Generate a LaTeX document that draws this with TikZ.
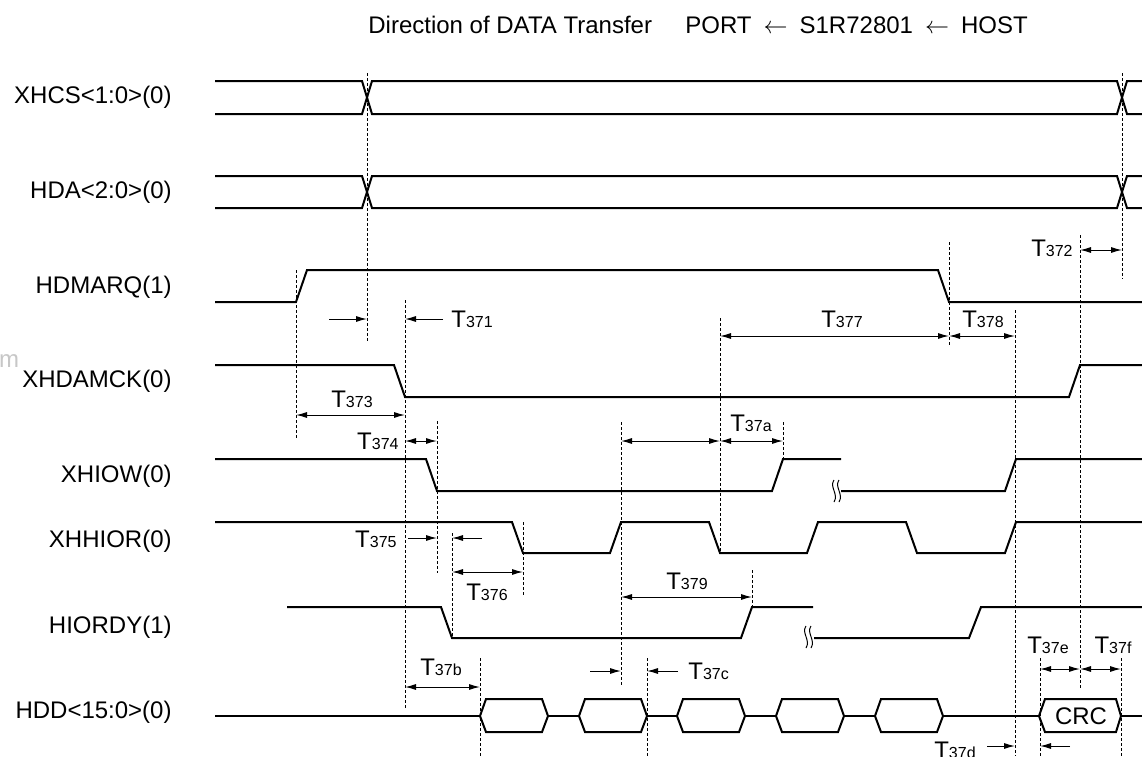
\documentclass[tikz,border=0pt]{standalone}
\usepackage{fontspec}
\setmainfont{Liberation Sans}
\usetikzlibrary{arrows.meta}
\newcommand{\tm}[1]{T\raisebox{-0.4pt}{\fontsize{8}{8}\selectfont #1}}

\begin{document}
\begin{tikzpicture}[x=0.5pt,y=-0.5pt,
  every node/.style={font=\fontsize{12}{14}\selectfont,inner sep=0pt},
  sig/.style={line width=1pt},
  guide/.style={line width=0.45pt,dash pattern=on 1.5pt off 1pt},
  dimarr/.style={line width=0.5pt,{Latex[length=5.5pt,width=3pt]}-{Latex[length=5.5pt,width=3pt]}},
  onearr/.style={line width=0.5pt,-{Latex[length=5.5pt,width=3pt]}},
  lbl/.style={anchor=base east}]
\useasboundingbox (0,0) rectangle (1142,756);

\node[anchor=base west] (title) at (368,33) {Direction of DATA Transfer};
\node[anchor=base west] (dir) at (685,33) {PORT\enspace$\leftarrow$\enspace S1R72801\enspace$\leftarrow$\enspace HOST};
\node[text=black!22] (stray) at (9,361) {m};

\node[lbl] (xhcs) at (172,103) {XHCS<1:0>(0)};
\node[lbl] (hda) at (172,198) {HDA<2:0>(0)};
\node[lbl] (hdmarq) at (172,293) {HDMARQ(1)};
\node[lbl] (xhdamck) at (172,387) {XHDAMCK(0)};
\node[lbl] (xhiow) at (172,482) {XHIOW(0)};
\node[lbl] (xhhior) at (172,547) {XHHIOR(0)};
\node[lbl] (hiordy) at (172,633) {HIORDY(1)};
\node[lbl] (hdd) at (172,718) {HDD<15:0>(0)};

\foreach \ya/\yb in {81/114,176/208} {
  \draw[sig] (215,\ya)--(362,\ya)--(372,\yb)--(1117,\yb)--(1127,\ya)--(1142,\ya);
  \draw[sig] (215,\yb)--(362,\yb)--(372,\ya)--(1117,\ya)--(1127,\yb)--(1142,\yb);
}
\draw[sig] (215,302)--(296,302)--(307,270)--(938,270)--(949,302)--(1142,302);
\draw[sig] (215,365)--(394,365)--(405,397)--(1069,397)--(1080,365)--(1142,365);
\draw[sig] (215,459)--(426,459)--(437,491)--(772,491)--(783,459)--(841,459);
\draw[sig] (841,491)--(1005,491)--(1016,459)--(1142,459);
\draw[sig] (215,522)--(512,522)--(523,553)--(610,553)--(621,522)--(709,522)--(720,553)--(807,553)
  --(818,522)--(906,522)--(917,553)--(1005,553)--(1016,522)--(1142,522);
\draw[sig] (287,607)--(441,607)--(452,638)--(741,638)--(752,607)--(813,607);
\draw[sig] (814,638)--(969,638)--(981,607)--(1142,607);
\foreach \x/\ya in {834/480,839/480,806/626,811/626}
  \draw[line width=0.5pt] (\x,\ya) .. controls (\x-5,\ya+7) and (\x+5,\ya+14) .. (\x,\ya+22);

\draw[sig] (215,716)--(1142,716);
\foreach \x in {480,579,677,776,875}
  \draw[sig,fill=white] (\x,716)--(\x+6,699)--(\x+62,699)--(\x+68,716)--(\x+62,732)--(\x+6,732)--cycle;
\draw[sig,fill=white] (1039,716)--(1045,699)--(1116,699)--(1121,716)--(1116,732)--(1045,732)--cycle;
\node (crc) at (1081,716) {CRC};

\foreach \x/\ya/\yb in {296/270/438,367/73/343,405/300/710,437/421/573,452/533/637,523/522/597,
  621/422/685,720/318/553,752/570/607,783/422/459,949/242/346,1015/310/756,1080/235/689,
  1122/73/279,480/658/756,647/658/756,1040/658/756,1121/658/756}
  \draw[guide] (\x,\ya)--(\x,\yb);

\foreach \xa/\xb/\y in {296/405/415,405/437/441,621/720/441,720/783/441,720/949/336,949/1015/336,
  1080/1122/250,452/523/572,621/752/597,405/480/687,1040/1080/669,1080/1121/669}
  \draw[dimarr] (\xa,\y)--(\xb,\y);
\foreach \xa/\xb/\y in {329/367/319,443/405/319,408/437/538,482/452/538,590/621/671,678/647/671,
  987/1015/746,1070/1040/746}
  \draw[onearr] (\xa,\y)--(\xb,\y);

\node[anchor=base west] (t371) at (451,327) {\tm{371}};
\node[anchor=base east] (t372) at (1073,256) {\tm{372}};
\node[anchor=base] (t373) at (352,407) {\tm{373}};
\node[anchor=base east] (t374) at (399,449) {\tm{374}};
\node[anchor=base east] (t375) at (397,547) {\tm{375}};
\node[anchor=base] (t376) at (487,600) {\tm{376}};
\node[anchor=base] (t377) at (842,327) {\tm{377}};
\node[anchor=base] (t378) at (983,327) {\tm{378}};
\node[anchor=base] (t379) at (687,589) {\tm{379}};
\node[anchor=base] (t37a) at (751,431) {\tm{37a}};
\node[anchor=base] (t37b) at (441,675) {\tm{37b}};
\node[anchor=base west] (t37c) at (688,679) {\tm{37c}};
\node[anchor=base] (t37d) at (955,758) {\tm{37d}};
\node[anchor=base] (t37e) at (1048,653) {\tm{37e}};
\node[anchor=base] (t37f) at (1113,653) {\tm{37f}};
\end{tikzpicture}
\end{document}
